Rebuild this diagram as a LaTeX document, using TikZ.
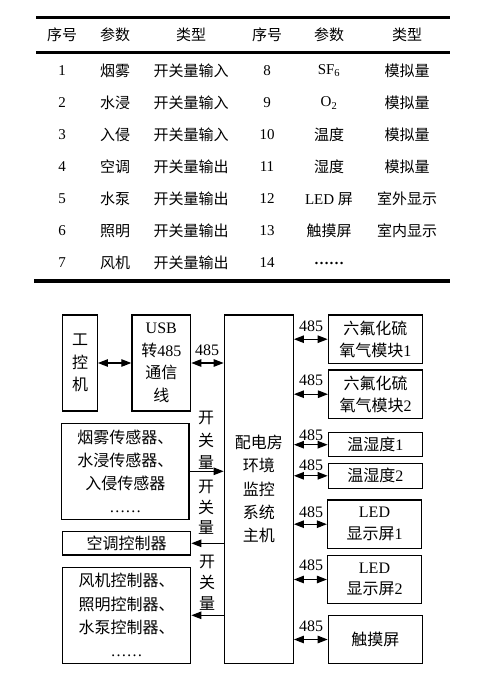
\documentclass[tikz,border=0pt]{standalone}
\usepackage{fontspec}
\setmainfont{Liberation Serif}
\newfontfamily\cjfont{Noto Sans CJK SC}
\newcommand\zh[1]{{\cjfont #1}}
\usetikzlibrary{arrows.meta}
\begin{document}
\begin{tikzpicture}[x=1pt,y=-1pt,
  tab/.style={font=\fontsize{15}{18}\selectfont, inner sep=0pt, anchor=center},
  box/.style={draw, line width=1.3pt, inner sep=0pt, align=center,
    font=\fontsize{16}{22.5}\selectfont},
  rbox/.style={box, minimum width=94pt, font=\fontsize{16}{21.7}\selectfont},
  lbl/.style={font=\fontsize{16}{20.5}\selectfont, inner sep=0pt, align=center},
  conn/.style={line width=1.1pt},
  bi/.style={conn, {Triangle[length=10pt,width=7.5pt]}-{Triangle[length=10pt,width=7.5pt]}},
  to/.style={conn, -{Triangle[length=10pt,width=7.5pt]}}
]
\useasboundingbox (0,0) rectangle (480,685);
% ---------- table ----------
\draw[line width=3.5pt] (36,17.5) -- (450,17.5);
\draw[line width=3pt] (36,52.5) -- (450,52.5);
\draw[line width=3.5pt] (34,281) -- (450,281);
\foreach \x/\t in {62/序号,115/参数,191/类型,267/序号,329/参数,407/类型}
  \node[tab] at (\x,35) {\zh{\t}};
\foreach \i/\p/\ty [count=\k from 0] in {1/烟雾/开关量输入,2/水浸/开关量输入,3/入侵/开关量输入,4/空调/开关量输出,5/水泵/开关量输出,6/照明/开关量输出,7/风机/开关量输出}{
  \node[tab] at (62,71+32*\k) {\i};
  \node[tab] at (115,71+32*\k) {\zh{\p}};
  \node[tab] at (191,71+32*\k) {\zh{\ty}};
}
\foreach \n [count=\k from 0] in {8,9,10,11,12,13,14}
  \node[tab] at (267,71+32*\k) {\n};
\node[tab] (p8) at (329,71) {SF\textsubscript{6}};
\node[tab] (p9) at (329,103) {O\textsubscript{2}};
\node[tab] (p10) at (329,135) {\zh{温度}};
\node[tab] (p11) at (329,167) {\zh{湿度}};
\node[tab] (p12) at (329,199) {LED \zh{屏}};
\node[tab] (p13) at (329,231) {\zh{触摸屏}};
\node[tab] (p14) at (329,263) {\textbf{……}};
\foreach \y/\t in {71/模拟量,103/模拟量,135/模拟量,167/模拟量,199/室外显示,231/室内显示}
  \node[tab] at (407,\y) {\zh{\t}};
% ---------- diagram ----------
\node[box, minimum width=34.6pt, minimum height=96pt] (gk) at (80,363) {\zh{工}\\\zh{控}\\\zh{机}};
\node[box, minimum width=58.7pt, minimum height=96pt] (usb) at (161.3,363) {USB\\\zh{转}485\\\zh{通信}\\\zh{线}};
\node[box, minimum width=69pt, minimum height=348.3pt, font=\fontsize{16}{23.3}\selectfont] (main) at (258.8,489.2) {\zh{配电房}\\\zh{环境}\\\zh{监控}\\\zh{系统}\\\zh{主机}};
\node[box, minimum width=127.3pt, minimum height=96pt, font=\fontsize{16}{23}\selectfont] (sens) at (125.3,471.3) {\zh{烟雾传感器、}\\\zh{水浸传感器、}\\\zh{入侵传感器}\\……};
\node[box, minimum width=128pt, minimum height=23.3pt] (ac) at (126.7,543.3) {\zh{空调控制器}};
\node[box, minimum width=128pt, minimum height=96pt, font=\fontsize{16}{23.3}\selectfont] (fan) at (126.7,615.3) {\zh{风机控制器、}\\\zh{照明控制器、}\\\zh{水泵控制器、}\\……};
\node[rbox, minimum height=48.3pt] (sf1) at (375.3,339.2) {\zh{六氟化硫}\\\zh{氧气模块}1};
\node[rbox, minimum height=48.3pt] (sf2) at (375.6,394.2) {\zh{六氟化硫}\\\zh{氧气模块}2};
\node[rbox, minimum height=24pt] (th1) at (375.3,444.7) {\zh{温湿度}1};
\node[rbox, minimum height=25pt] (th2) at (375.3,475.8) {\zh{温湿度}2};
\node[rbox, minimum height=48.3pt] (led1) at (374.5,524.2) {LED\\\zh{显示屏}1};
\node[rbox, minimum height=47.6pt] (led2) at (374.5,579.5) {LED\\\zh{显示屏}2};
\node[rbox, minimum height=47.6pt] (touch) at (375.3,639.5) {\zh{触摸屏}};
% connectors
\draw[bi] (gk.east) -- (usb.west);
\draw[bi] (usb.east) -- (usb.east -| main.west);
\draw[to] (sens.east) -- (sens.east -| main.west);
\draw[to] (ac.east -| main.west) -- (ac.east);
\draw[to] (fan.east -| main.west) -- (fan.east);
\foreach \b in {sf1,sf2,th1,th2,led1,led2,touch}
  \draw[bi] (\b.west -| main.east) -- (\b.west);
% labels
\node[lbl, font=\fontsize{16}{18}\selectfont] (l0) at (207,350) {485};
\node[lbl, font=\fontsize{16}{22.5}\selectfont] (k1) at (206,440.5) {\zh{开}\\\zh{关}\\\zh{量}};
\node[lbl, font=\fontsize{16}{20.7}\selectfont] (k2) at (206,507.5) {\zh{开}\\\zh{关}\\\zh{量}};
\node[lbl, font=\fontsize{16}{20.8}\selectfont] (k3) at (207,582.5) {\zh{开}\\\zh{关}\\\zh{量}};
\foreach \b/\y in {sf1/326.7,sf2/380.7,th1/435,th2/465,led1/512.7,led2/565,touch/626.7}
  \node[lbl, font=\fontsize{16}{18}\selectfont] at (311,\y) {485};
\end{tikzpicture}
\end{document}
